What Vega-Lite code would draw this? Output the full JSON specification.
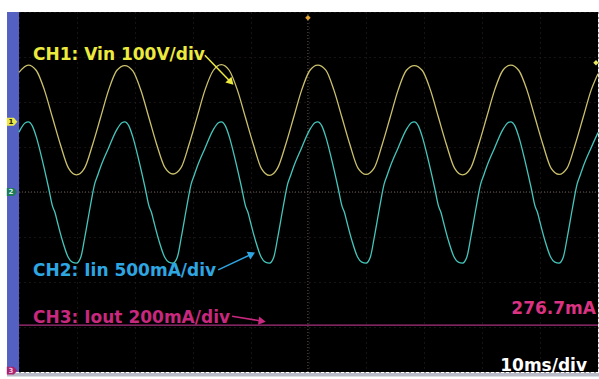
{
  "$schema": "https://vega.github.io/schema/vega-lite/v6.json",
  "width": 579,
  "height": 360,
  "autosize": {"type": "none"},
  "padding": {"left": 19, "top": 12, "right": 1, "bottom": 7},
  "background": "white",
  "config": {"view": {"fill": "black", "stroke": null}},
  "datasets": {
    "frame": [
      {"t": -2.07, "t2": 0, "v": -4, "v2": 4, "part": "strip"},
      {"t": -2.07, "t2": 100.2, "v": -4.02, "v2": -4.1, "part": "bar"}
    ],
    "center": [
      {"t": 0, "t2": 100, "v": 0, "v2": 0},
      {"t": 49.9, "t2": 49.9, "v": -4, "v2": 4}
    ],
    "traces": [
      {"t":0,"v":2.66,"ch":"CH1"},{"t":1.6,"v":2.82,"ch":"CH1"},{"t":2.99,"v":2.7,"ch":"CH1"},{"t":4.38,"v":2.27,"ch":"CH1"},{"t":5.77,"v":1.66,"ch":"CH1"},{"t":7.16,"v":1.05,"ch":"CH1"},{"t":8.55,"v":0.53,"ch":"CH1"},{"t":9.93,"v":0.38,"ch":"CH1"},{"t":11.32,"v":0.53,"ch":"CH1"},{"t":12.71,"v":1.05,"ch":"CH1"},{"t":14.1,"v":1.66,"ch":"CH1"},{"t":15.49,"v":2.27,"ch":"CH1"},{"t":16.88,"v":2.7,"ch":"CH1"},
      {"t":18.27,"v":2.81,"ch":"CH1"},{"t":19.66,"v":2.69,"ch":"CH1"},{"t":21.05,"v":2.26,"ch":"CH1"},{"t":22.44,"v":1.65,"ch":"CH1"},{"t":23.82,"v":1.04,"ch":"CH1"},{"t":25.21,"v":0.54,"ch":"CH1"},{"t":26.6,"v":0.4,"ch":"CH1"},{"t":27.99,"v":0.54,"ch":"CH1"},{"t":29.38,"v":1.06,"ch":"CH1"},{"t":30.77,"v":1.67,"ch":"CH1"},{"t":32.16,"v":2.28,"ch":"CH1"},{"t":33.55,"v":2.7,"ch":"CH1"},
      {"t":34.94,"v":2.83,"ch":"CH1"},{"t":36.33,"v":2.7,"ch":"CH1"},{"t":37.71,"v":2.27,"ch":"CH1"},{"t":39.1,"v":1.66,"ch":"CH1"},{"t":40.49,"v":1.05,"ch":"CH1"},{"t":41.88,"v":0.52,"ch":"CH1"},{"t":43.27,"v":0.37,"ch":"CH1"},{"t":44.66,"v":0.53,"ch":"CH1"},{"t":46.05,"v":1.05,"ch":"CH1"},{"t":47.44,"v":1.66,"ch":"CH1"},{"t":48.83,"v":2.27,"ch":"CH1"},{"t":50.22,"v":2.7,"ch":"CH1"},
      {"t":51.6,"v":2.82,"ch":"CH1"},{"t":52.99,"v":2.71,"ch":"CH1"},{"t":54.38,"v":2.27,"ch":"CH1"},{"t":55.77,"v":1.66,"ch":"CH1"},{"t":57.16,"v":1.05,"ch":"CH1"},{"t":58.55,"v":0.53,"ch":"CH1"},{"t":59.94,"v":0.39,"ch":"CH1"},{"t":61.33,"v":0.53,"ch":"CH1"},{"t":62.72,"v":1.05,"ch":"CH1"},{"t":64.11,"v":1.66,"ch":"CH1"},{"t":65.49,"v":2.27,"ch":"CH1"},{"t":66.88,"v":2.7,"ch":"CH1"},
      {"t":68.27,"v":2.81,"ch":"CH1"},{"t":69.66,"v":2.7,"ch":"CH1"},{"t":71.05,"v":2.27,"ch":"CH1"},{"t":72.44,"v":1.66,"ch":"CH1"},{"t":73.83,"v":1.05,"ch":"CH1"},{"t":75.22,"v":0.53,"ch":"CH1"},{"t":76.61,"v":0.38,"ch":"CH1"},{"t":78.0,"v":0.53,"ch":"CH1"},{"t":79.38,"v":1.05,"ch":"CH1"},{"t":80.77,"v":1.66,"ch":"CH1"},{"t":82.16,"v":2.27,"ch":"CH1"},{"t":83.55,"v":2.7,"ch":"CH1"},
      {"t":84.94,"v":2.82,"ch":"CH1"},{"t":86.33,"v":2.7,"ch":"CH1"},{"t":87.72,"v":2.27,"ch":"CH1"},{"t":89.11,"v":1.66,"ch":"CH1"},{"t":90.5,"v":1.05,"ch":"CH1"},{"t":91.89,"v":0.53,"ch":"CH1"},{"t":93.27,"v":0.39,"ch":"CH1"},{"t":94.66,"v":0.53,"ch":"CH1"},{"t":96.05,"v":1.05,"ch":"CH1"},{"t":97.44,"v":1.66,"ch":"CH1"},{"t":98.83,"v":2.27,"ch":"CH1"},{"t":100,"v":2.63,"ch":"CH1"},
      {"t":0,"v":1.33,"ch":"CH2"},{"t":0.2,"v":1.38,"ch":"CH2"},{"t":1.1,"v":1.54,"ch":"CH2"},{"t":1.6,"v":1.56,"ch":"CH2"},{"t":2.3,"v":1.47,"ch":"CH2"},{"t":3.0,"v":1.22,"ch":"CH2"},{"t":4.0,"v":0.72,"ch":"CH2"},{"t":5.1,"v":0.1,"ch":"CH2"},{"t":5.8,"v":-0.32,"ch":"CH2"},{"t":6.2,"v":-0.45,"ch":"CH2"},{"t":6.6,"v":-0.65,"ch":"CH2"},{"t":7.5,"v":-1.08,"ch":"CH2"},{"t":8.5,"v":-1.45,"ch":"CH2"},{"t":9.2,"v":-1.56,"ch":"CH2"},{"t":9.93,"v":-1.58,"ch":"CH2"},
      {"t":10.67,"v":-1.45,"ch":"CH2"},{"t":11.37,"v":-1.0,"ch":"CH2"},{"t":12.27,"v":-0.35,"ch":"CH2"},{"t":13.07,"v":0.18,"ch":"CH2"},{"t":13.67,"v":0.4,"ch":"CH2"},{"t":14.07,"v":0.55,"ch":"CH2"},{"t":15.47,"v":0.98,"ch":"CH2"},{"t":16.87,"v":1.38,"ch":"CH2"},{"t":17.77,"v":1.54,"ch":"CH2"},{"t":18.27,"v":1.56,"ch":"CH2"},{"t":18.97,"v":1.47,"ch":"CH2"},{"t":19.67,"v":1.22,"ch":"CH2"},{"t":20.67,"v":0.72,"ch":"CH2"},{"t":21.77,"v":0.1,"ch":"CH2"},{"t":22.47,"v":-0.32,"ch":"CH2"},{"t":22.87,"v":-0.45,"ch":"CH2"},{"t":23.27,"v":-0.65,"ch":"CH2"},{"t":24.17,"v":-1.08,"ch":"CH2"},{"t":25.17,"v":-1.45,"ch":"CH2"},{"t":25.87,"v":-1.56,"ch":"CH2"},{"t":26.6,"v":-1.58,"ch":"CH2"},
      {"t":27.34,"v":-1.45,"ch":"CH2"},{"t":28.04,"v":-1.0,"ch":"CH2"},{"t":28.94,"v":-0.35,"ch":"CH2"},{"t":29.74,"v":0.18,"ch":"CH2"},{"t":30.34,"v":0.4,"ch":"CH2"},{"t":30.74,"v":0.55,"ch":"CH2"},{"t":32.14,"v":0.98,"ch":"CH2"},{"t":33.54,"v":1.38,"ch":"CH2"},{"t":34.44,"v":1.54,"ch":"CH2"},{"t":34.94,"v":1.56,"ch":"CH2"},{"t":35.64,"v":1.47,"ch":"CH2"},{"t":36.34,"v":1.22,"ch":"CH2"},{"t":37.34,"v":0.72,"ch":"CH2"},{"t":38.44,"v":0.1,"ch":"CH2"},{"t":39.14,"v":-0.32,"ch":"CH2"},{"t":39.54,"v":-0.45,"ch":"CH2"},{"t":39.94,"v":-0.65,"ch":"CH2"},{"t":40.84,"v":-1.08,"ch":"CH2"},{"t":41.84,"v":-1.45,"ch":"CH2"},{"t":42.54,"v":-1.56,"ch":"CH2"},{"t":43.27,"v":-1.58,"ch":"CH2"},
      {"t":44.0,"v":-1.45,"ch":"CH2"},{"t":44.7,"v":-1.0,"ch":"CH2"},{"t":45.6,"v":-0.35,"ch":"CH2"},{"t":46.4,"v":0.18,"ch":"CH2"},{"t":47.0,"v":0.4,"ch":"CH2"},{"t":47.4,"v":0.55,"ch":"CH2"},{"t":48.8,"v":0.98,"ch":"CH2"},{"t":50.2,"v":1.38,"ch":"CH2"},{"t":51.1,"v":1.54,"ch":"CH2"},{"t":51.6,"v":1.56,"ch":"CH2"},{"t":52.3,"v":1.47,"ch":"CH2"},{"t":53.0,"v":1.22,"ch":"CH2"},{"t":54.0,"v":0.72,"ch":"CH2"},{"t":55.1,"v":0.1,"ch":"CH2"},{"t":55.8,"v":-0.32,"ch":"CH2"},{"t":56.2,"v":-0.45,"ch":"CH2"},{"t":56.6,"v":-0.65,"ch":"CH2"},{"t":57.5,"v":-1.08,"ch":"CH2"},{"t":58.5,"v":-1.45,"ch":"CH2"},{"t":59.2,"v":-1.56,"ch":"CH2"},{"t":59.94,"v":-1.58,"ch":"CH2"},
      {"t":60.67,"v":-1.45,"ch":"CH2"},{"t":61.37,"v":-1.0,"ch":"CH2"},{"t":62.27,"v":-0.35,"ch":"CH2"},{"t":63.07,"v":0.18,"ch":"CH2"},{"t":63.67,"v":0.4,"ch":"CH2"},{"t":64.07,"v":0.55,"ch":"CH2"},{"t":65.47,"v":0.98,"ch":"CH2"},{"t":66.87,"v":1.38,"ch":"CH2"},{"t":67.77,"v":1.54,"ch":"CH2"},{"t":68.27,"v":1.56,"ch":"CH2"},{"t":68.97,"v":1.47,"ch":"CH2"},{"t":69.67,"v":1.22,"ch":"CH2"},{"t":70.67,"v":0.72,"ch":"CH2"},{"t":71.77,"v":0.1,"ch":"CH2"},{"t":72.47,"v":-0.32,"ch":"CH2"},{"t":72.87,"v":-0.45,"ch":"CH2"},{"t":73.27,"v":-0.65,"ch":"CH2"},{"t":74.17,"v":-1.08,"ch":"CH2"},{"t":75.17,"v":-1.45,"ch":"CH2"},{"t":75.87,"v":-1.56,"ch":"CH2"},{"t":76.6,"v":-1.58,"ch":"CH2"},
      {"t":77.34,"v":-1.45,"ch":"CH2"},{"t":78.04,"v":-1.0,"ch":"CH2"},{"t":78.94,"v":-0.35,"ch":"CH2"},{"t":79.74,"v":0.18,"ch":"CH2"},{"t":80.34,"v":0.4,"ch":"CH2"},{"t":80.74,"v":0.55,"ch":"CH2"},{"t":82.14,"v":0.98,"ch":"CH2"},{"t":83.54,"v":1.38,"ch":"CH2"},{"t":84.44,"v":1.54,"ch":"CH2"},{"t":84.94,"v":1.56,"ch":"CH2"},{"t":85.64,"v":1.47,"ch":"CH2"},{"t":86.34,"v":1.22,"ch":"CH2"},{"t":87.34,"v":0.72,"ch":"CH2"},{"t":88.44,"v":0.1,"ch":"CH2"},{"t":89.14,"v":-0.32,"ch":"CH2"},{"t":89.54,"v":-0.45,"ch":"CH2"},{"t":89.94,"v":-0.65,"ch":"CH2"},{"t":90.84,"v":-1.08,"ch":"CH2"},{"t":91.84,"v":-1.45,"ch":"CH2"},{"t":92.54,"v":-1.56,"ch":"CH2"},{"t":93.27,"v":-1.58,"ch":"CH2"},
      {"t":94.0,"v":-1.45,"ch":"CH2"},{"t":94.7,"v":-1.0,"ch":"CH2"},{"t":95.6,"v":-0.35,"ch":"CH2"},{"t":96.4,"v":0.18,"ch":"CH2"},{"t":97.0,"v":0.4,"ch":"CH2"},{"t":97.4,"v":0.55,"ch":"CH2"},{"t":98.8,"v":0.98,"ch":"CH2"},{"t":100,"v":1.32,"ch":"CH2"},
      {"t":0,"v":-2.96,"ch":"CH3"},{"t":100,"v":-2.96,"ch":"CH3"}
    ],
    "labelsLeft": [
      {"t": 2.42, "v": 2.93, "text": "CH1: Vin 100V/div", "ch": "CH1"},
      {"t": 2.42, "v": -1.87, "text": "CH2: Iin 500mA/div", "ch": "CH2"},
      {"t": 2.42, "v": -2.9, "text": "CH3: Iout 200mA/div", "ch": "CH3"}
    ],
    "labelsRight": [
      {"t": 99.65, "v": -2.71, "text": "276.7mA", "ch": "CH3"},
      {"t": 98.1, "v": -3.97, "text": "10ms/div", "ch": "time"}
    ],
    "arrows": [
      {"t": 32.1, "v": 3.04, "t2": 36.6, "v2": 2.44, "ch": "CH1"},
      {"t": 34.4, "v": -1.73, "t2": 40.2, "v2": -1.38, "ch": "CH2"},
      {"t": 36.8, "v": -2.76, "t2": 42.0, "v2": -2.87, "ch": "CH3"}
    ],
    "markers": [
      {"t": -1.2, "v": 1.56, "text": "1", "m": "m1"},
      {"t": -1.2, "v": 0, "text": "2", "m": "m2"},
      {"t": -1.2, "v": -3.97, "text": "3", "m": "m3"}
    ],
    "extra": [
      {"t": 49.9, "v": 3.87, "m": "trig"},
      {"t": 99.65, "v": 2.87, "m": "right"}
    ]
  },
  "resolve": {"scale": {"color": "independent"}},
  "encoding": {
    "x": {
      "field": "t", "type": "quantitative",
      "scale": {"domain": [0, 100], "nice": false, "zero": false},
      "axis": {"values": [0,10,20,30,40,50,60,70,80,90,100], "labels": false, "ticks": false, "domain": false, "title": null, "grid": true, "gridColor": "#2e2626", "gridDash": [1, 4], "gridWidth": 1}
    },
    "y": {
      "field": "v", "type": "quantitative",
      "scale": {"domain": [-4, 4], "nice": false, "zero": false},
      "axis": {"values": [-4,-3,-2,-1,0,1,2,3,4], "labels": false, "ticks": false, "domain": false, "title": null, "grid": true, "gridColor": "#2e2626", "gridDash": [1, 4], "gridWidth": 1}
    }
  },
  "layer": [
    {
      "data": {"name": "frame"},
      "mark": {"type": "rect"},
      "encoding": {
        "x2": {"field": "t2"},
        "y2": {"field": "v2"},
        "color": {"field": "part", "type": "nominal", "legend": null, "scale": {"domain": ["strip", "bar"], "range": ["#5561c2", "#b9bcc8"]}}
      }
    },
    {
      "data": {"name": "center"},
      "mark": {"type": "rule", "color": "#6a5a52", "strokeDash": [1, 2], "strokeWidth": 1},
      "encoding": {"x2": {"field": "t2"}, "y2": {"field": "v2"}}
    },
    {
      "data": {"name": "traces"},
      "transform": [{"filter": "datum.ch !== 'CH3'"}],
      "mark": {"type": "line", "interpolate": "monotone", "strokeWidth": 1.3},
      "encoding": {
        "color": {"field": "ch", "type": "nominal", "legend": null, "scale": {"domain": ["CH1", "CH2"], "range": ["#cbc16c", "#45c6bc"]}}
      }
    },
    {
      "data": {"name": "traces"},
      "transform": [{"filter": "datum.ch === 'CH3'"}],
      "mark": {"type": "line", "strokeWidth": 1.3, "color": "#a8307f"},
      "encoding": {}
    },
    {
      "data": {"name": "arrows"},
      "mark": {"type": "rule", "strokeWidth": 1.5},
      "encoding": {
        "x2": {"field": "t2"},
        "y2": {"field": "v2"},
        "color": {"field": "ch", "type": "nominal", "legend": null, "scale": {"domain": ["CH1", "CH2", "CH3"], "range": ["#ecea3e", "#2ea6e2", "#c8287e"]}}
      }
    },
    {
      "data": {"name": "arrows"},
      "transform": [{"filter": "datum.ch === 'CH1'"}],
      "mark": {"type": "point", "shape": "triangle-right", "filled": true, "opacity": 1, "size": 70, "angle": 46, "color": "#ecea3e"},
      "encoding": {"x": {"field": "t2", "type": "quantitative"}, "y": {"field": "v2", "type": "quantitative"}}
    },
    {
      "data": {"name": "arrows"},
      "transform": [{"filter": "datum.ch === 'CH2'"}],
      "mark": {"type": "point", "shape": "triangle-right", "filled": true, "opacity": 1, "size": 70, "angle": -25, "color": "#2ea6e2"},
      "encoding": {"x": {"field": "t2", "type": "quantitative"}, "y": {"field": "v2", "type": "quantitative"}}
    },
    {
      "data": {"name": "arrows"},
      "transform": [{"filter": "datum.ch === 'CH3'"}],
      "mark": {"type": "point", "shape": "triangle-right", "filled": true, "opacity": 1, "size": 70, "angle": 8, "color": "#c8287e"},
      "encoding": {"x": {"field": "t2", "type": "quantitative"}, "y": {"field": "v2", "type": "quantitative"}}
    },
    {
      "data": {"name": "labelsLeft"},
      "mark": {"type": "text", "align": "left", "baseline": "alphabetic", "font": "DejaVu Sans", "fontWeight": "bold", "fontSize": 17},
      "encoding": {
        "text": {"field": "text"},
        "color": {"field": "ch", "type": "nominal", "legend": null, "scale": {"domain": ["CH1", "CH2", "CH3"], "range": ["#ecea3e", "#2ea6e2", "#c8287e"]}}
      }
    },
    {
      "data": {"name": "labelsRight"},
      "mark": {"type": "text", "align": "right", "baseline": "alphabetic", "font": "DejaVu Sans", "fontWeight": "bold", "fontSize": 17},
      "encoding": {
        "text": {"field": "text"},
        "color": {"field": "ch", "type": "nominal", "legend": null, "scale": {"domain": ["CH3", "time"], "range": ["#dc3282", "#ffffff"]}}
      }
    },
    {
      "data": {"name": "markers"},
      "mark": {"type": "point", "shape": "M-1,-0.75L0.35,-0.75L1,0L0.35,0.75L-1,0.75Z", "filled": true, "opacity": 1, "size": 110},
      "encoding": {
        "color": {"field": "m", "type": "nominal", "legend": null, "scale": {"domain": ["m1", "m2", "m3"], "range": ["#ece84a", "#1f7a5c", "#a8246c"]}}
      }
    },
    {
      "data": {"name": "markers"},
      "mark": {"type": "text", "align": "center", "baseline": "middle", "font": "DejaVu Sans", "fontWeight": "bold", "fontSize": 7, "dx": -1},
      "encoding": {
        "text": {"field": "text"},
        "color": {"field": "m", "type": "nominal", "legend": null, "scale": {"domain": ["m1", "m2", "m3"], "range": ["#222200", "#d0f0e0", "#f0c0e0"]}}
      }
    },
    {
      "data": {"name": "extra"},
      "mark": {"type": "point", "shape": "diamond", "filled": true, "opacity": 1, "size": 30},
      "encoding": {
        "color": {"field": "m", "type": "nominal", "legend": null, "scale": {"domain": ["trig", "right"], "range": ["#e6a432", "#ece860"]}}
      }
    }
  ]
}
